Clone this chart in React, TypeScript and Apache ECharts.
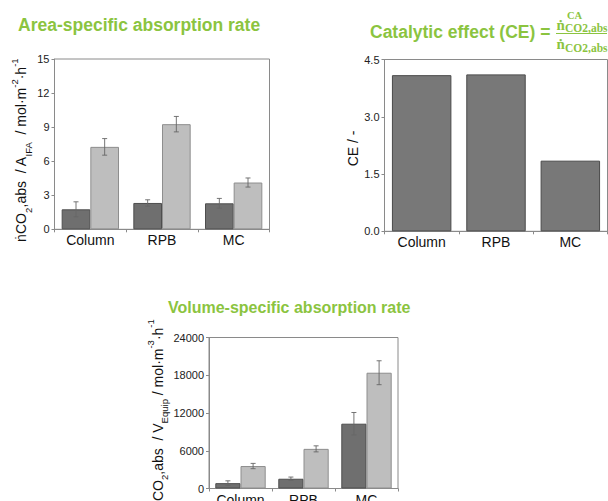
import { useEffect, useRef } from 'react';
import * as echarts from 'echarts';

const categories = ['Column', 'RPB', 'MC'];

// Area-specific absorption rate (mol·m⁻²·h⁻¹): without / with carbonic anhydrase
const areaRateNoCA = [1.76, 2.32, 2.29];
const areaErrNoCA = [0.66, 0.28, 0.43];
const areaRateCA = [7.26, 9.26, 4.12];
const areaErrCA = [0.73, 0.68, 0.4];

// Catalytic effect CE (-)
const catalyticEffect = [4.09, 4.11, 1.85];

// Volume-specific absorption rate (mol·m⁻³·h⁻¹)
const volRateNoCA = [850, 1550, 10300];
const volErrNoCA = [370, 270, 1780];
const volRateCA = [3570, 6300, 18400];
const volErrCA = [420, 480, 1900];

// Axis ranges
const areaAxis = { min: 0, max: 15, interval: 3 };
const ceAxis = { min: 0, max: 4.5, interval: 1.5 };
const volAxis = { min: 0, max: 24000, interval: 6000 };

const GREEN = '#8bc43f';
const SANS = '"Liberation Sans", Arial, sans-serif';
const SERIF = '"Liberation Serif", "DejaVu Serif", serif';
const FRAME = '#8a8a8a';
const DARK_FILL = '#6f6f6f';
const DARK_EDGE = '#4e4e4e';
const LIGHT_FILL = '#bebebe';
const LIGHT_EDGE = '#8e8e8e';

const nameRich = {
  m: { fontSize: 14, lineHeight: 24, fontFamily: SANS, color: '#111' },
  sub: { fontSize: 9.5, lineHeight: 13, verticalAlign: 'bottom', fontFamily: SANS, color: '#111' },
  sup: { fontSize: 9.5, lineHeight: 13, verticalAlign: 'top', fontFamily: SANS, color: '#111' },
};

function valueAxis(
  gridIndex: number,
  range: { min: number; max: number; interval: number },
  name: string,
  nameGap: number,
  shift: number,
  fmt?: (v: number) => string
) {
  return {
    type: 'value',
    gridIndex,
    min: range.min,
    max: range.max,
    interval: range.interval,
    name,
    nameLocation: 'middle',
    nameGap,
    nameTextStyle: { rich: nameRich, fontSize: 14, fontFamily: SANS, color: '#111', padding: [0, shift, 0, 0] },
    axisLine: { show: true, lineStyle: { color: FRAME, width: 1 } },
    axisTick: { show: true, length: 3, lineStyle: { color: FRAME } },
    splitLine: { show: false },
    axisLabel: {
      fontSize: 11,
      fontFamily: SANS,
      color: '#222',
      margin: 5,
      formatter: fmt || ((v: number) => String(v)),
    },
  };
}

function categoryAxis(gridIndex: number) {
  return {
    type: 'category',
    gridIndex,
    data: categories,
    axisLine: { show: true, lineStyle: { color: FRAME, width: 1 } },
    axisTick: { show: true, length: 3, lineStyle: { color: FRAME } },
    axisLabel: { fontSize: 14, fontFamily: SANS, color: '#111', margin: 4 },
  };
}

function barSeries(axisIndex: number, values: number[], fill: string, edge: string) {
  return {
    type: 'bar',
    xAxisIndex: axisIndex,
    yAxisIndex: axisIndex,
    data: values,
    barGap: '0%',
    barCategoryGap: '20%',
    itemStyle: { color: fill, borderColor: edge, borderWidth: 1 },
    emphasis: { disabled: true },
  };
}

// Error bars drawn over a pair of grouped bars; side -1 = left bar, +1 = right bar
function errorSeries(axisIndex: number, means: number[], errs: number[], side: number) {
  return {
    type: 'custom',
    xAxisIndex: axisIndex,
    yAxisIndex: axisIndex,
    z: 10,
    data: means.map((m, i) => [i, m - errs[i], m + errs[i]]),
    encode: { x: 0, y: [1, 2] },
    renderItem: (_params: any, api: any) => {
      const i = api.value(0);
      const lo = api.coord([i, api.value(1)]);
      const hi = api.coord([i, api.value(2)]);
      const band = api.size([1, 0])[0];
      const x = lo[0] + (side * band * 0.4) / 2;
      const cap = 2.5;
      const style = { stroke: '#666', lineWidth: 0.9 };
      return {
        type: 'group',
        children: [
          { type: 'line', shape: { x1: x, y1: hi[1], x2: x, y2: lo[1] }, style },
          { type: 'line', shape: { x1: x - cap, y1: hi[1], x2: x + cap, y2: hi[1] }, style },
          { type: 'line', shape: { x1: x - cap, y1: lo[1], x2: x + cap, y2: lo[1] }, style },
        ],
      };
    },
  };
}

export default function App() {
  const ref = useRef<HTMLDivElement>(null);

  useEffect(() => {
    if (!ref.current) return;
    const chart = echarts.init(ref.current, undefined, { renderer: 'svg' });

    const gridStyle = {
      show: true,
      borderColor: FRAME,
      borderWidth: 1,
      backgroundColor: '#fff',
      containLabel: false,
      outerBoundsMode: 'none',
    };

    chart.setOption({
      animation: false,
      backgroundColor: '#fff',
      grid: [
        { ...gridStyle, left: 54.5, top: 59, width: 215, height: 170.3 },
        { ...gridStyle, left: 384.5, top: 59.5, width: 223, height: 171.8 },
        { ...gridStyle, left: 209, top: 337.5, width: 189, height: 151 },
      ],
      xAxis: [categoryAxis(0), categoryAxis(1), categoryAxis(2)],
      yAxis: [
        valueAxis(
          0,
          areaAxis,
          '{m|ṅCO}{sub|2}{m|,abs  / A}{sub|IFA}{m|  / mol·m}{sup|-2}{m|·h}{sup|-1}',
          18.5,
          12
        ),
        valueAxis(1, ceAxis, '{m|CE / -}', 17, 6, (v: number) => v.toFixed(1)),
        valueAxis(
          2,
          volAxis,
          '{m|ṅCO}{sub|2}{m|,abs  / V}{sub|Equip}{m| / mol·m}{sup|-3}{m|·h}{sup|-1}',
          32,
          2
        ),
      ],
      series: [
        barSeries(0, areaRateNoCA, DARK_FILL, DARK_EDGE),
        barSeries(0, areaRateCA, LIGHT_FILL, LIGHT_EDGE),
        errorSeries(0, areaRateNoCA, areaErrNoCA, -1),
        errorSeries(0, areaRateCA, areaErrCA, 1),
        barSeries(1, catalyticEffect, '#787878', '#4a4a4a'),
        barSeries(2, volRateNoCA, DARK_FILL, DARK_EDGE),
        barSeries(2, volRateCA, LIGHT_FILL, LIGHT_EDGE),
        errorSeries(2, volRateNoCA, volErrNoCA, -1),
        errorSeries(2, volRateCA, volErrCA, 1),
      ],
      graphic: [
        {
          type: 'text',
          x: 18,
          y: 25,
          style: { text: 'Area-specific absorption rate', fill: GREEN, fontSize: 17.5, fontWeight: 'bold', fontFamily: SANS, verticalAlign: 'middle', align: 'left' },
        },
        {
          type: 'text',
          x: 370,
          y: 32,
          style: { text: 'Catalytic effect (CE) =', fill: GREEN, fontSize: 17.5, fontWeight: 'bold', fontFamily: SANS, verticalAlign: 'middle', align: 'left' },
        },
        // CE definition as a fraction
        {
          type: 'text',
          x: 556.5,
          y: 24.5,
          style: { text: 'ṅ', fill: GREEN, fontSize: 15, fontWeight: 'bold', fontFamily: SERIF, verticalAlign: 'middle', align: 'left' },
        },
        {
          type: 'text',
          x: 567,
          y: 15.5,
          style: { text: 'CA', fill: GREEN, fontSize: 10.5, fontWeight: 'bold', fontFamily: SERIF, verticalAlign: 'middle', align: 'left' },
        },
        {
          type: 'text',
          x: 565,
          y: 28,
          style: { text: 'CO2,abs', fill: GREEN, fontSize: 11.5, fontWeight: 'bold', fontFamily: SERIF, verticalAlign: 'middle', align: 'left' },
        },
        {
          type: 'line',
          shape: { x1: 556, y1: 33.5, x2: 607, y2: 33.5 },
          style: { stroke: GREEN, lineWidth: 1.2 },
        },
        {
          type: 'text',
          x: 556.5,
          y: 43.5,
          style: { text: 'ṅ', fill: GREEN, fontSize: 15, fontWeight: 'bold', fontFamily: SERIF, verticalAlign: 'middle', align: 'left' },
        },
        {
          type: 'text',
          x: 565,
          y: 48,
          style: { text: 'CO2,abs', fill: GREEN, fontSize: 11.5, fontWeight: 'bold', fontFamily: SERIF, verticalAlign: 'middle', align: 'left' },
        },
        {
          type: 'text',
          x: 168,
          y: 307,
          style: { text: 'Volume-specific absorption rate', fill: GREEN, fontSize: 16, fontWeight: 'bold', fontFamily: SANS, verticalAlign: 'middle', align: 'left' },
        },
      ],
    });

    return () => chart.dispose();
  }, []);

  return (
    <div
      ref={ref}
      style={{ position: 'absolute', left: 0, top: 0, width: 608, height: 501, background: '#fff' }}
    />
  );
}
